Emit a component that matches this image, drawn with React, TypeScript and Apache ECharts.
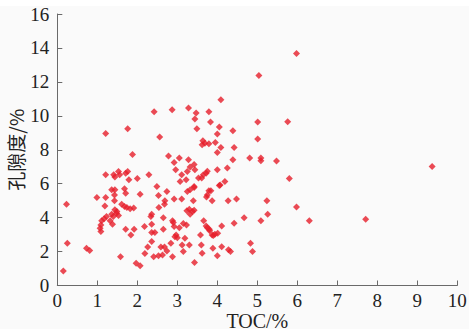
import React, { useEffect, useRef } from "react";
import * as echarts from "echarts";

const xTicks = [0, 10, 1];
const yTicks = [0, 16, 2];
const xName = "TOC/%";
const yName = "孔隙度/%";

const tocValues: number[] = [
  2.42, 2.87, 1.21, 1.76, 2.56, 1.88, 2.78, 2.92, 2.96, 1.21, 1.41, 1.44, 1.53, 1.56, 1.71, 1.76, 1.79, 2.0, 2.29, 2.49,
  4.09, 3.28, 3.47, 3.44, 3.79, 3.83, 5.01, 5.76, 3.49, 4.05, 4.39, 4.0, 5.01, 3.64, 3.69, 3.79, 3.62, 3.95, 4.09, 4.0,
  4.42, 4.39, 4.81, 5.09, 5.09, 5.48, 5.8, 3.05, 3.28, 3.42, 3.32, 3.25, 3.44, 3.72, 3.75, 3.65, 4.0, 4.25, 3.11, 3.07,
  3.22, 3.53, 3.61, 4.07, 4.19, 3.42,
  0.23, 0.25, 0.15, 0.73, 0.81, 0.99, 1.21, 1.19, 1.36, 1.44, 1.43, 1.43, 1.68, 1.71, 2.07, 2.53, 2.74, 2.69, 2.68, 2.54,
  1.44, 1.48, 1.36, 1.4, 1.53, 1.49, 1.61, 1.68, 1.74, 1.82, 1.91, 1.23, 1.17, 1.11, 1.09, 1.07, 1.09, 1.32, 1.38, 1.71,
  1.92, 1.84, 1.58, 1.97, 2.07, 2.18, 2.36, 2.34, 2.36, 2.36, 2.44, 2.65, 2.65, 2.36, 2.26, 2.19, 2.59, 2.68, 2.41, 2.53,
  2.63, 2.74,
  3.25, 3.32, 3.42, 3.75, 3.79, 3.84, 3.73, 4.05, 2.92, 3.11, 3.4, 3.87, 4.27, 4.48, 5.24, 5.26, 5.09, 4.67, 4.42, 3.24,
  3.3, 3.38, 3.32, 3.42, 3.66, 3.72, 3.75, 3.8, 3.81, 4.11, 3.87, 3.94, 4.01, 3.9, 3.58, 2.9, 2.88, 3.05, 3.15, 3.23,
  2.97, 3.0, 2.94, 3.19, 2.84, 3.12, 3.3, 3.6, 3.15, 2.88, 3.62, 3.43, 3.89, 4.0, 4.11, 4.28, 4.33, 4.83, 4.88,
  9.37, 7.71, 6.3, 5.98, 5.98, 5.04, 2.92,
];

const porosityValues: number[] = [
  10.24, 10.36, 8.96, 9.24, 8.75, 7.72, 7.63, 7.25, 6.82, 6.52, 6.52, 6.39, 6.72, 6.52, 6.62, 6.72, 6.23, 6.3, 6.52, 5.83,
  10.95, 10.46, 10.16, 9.81, 10.24, 9.63, 9.63, 9.65, 9.24, 9.34, 9.12, 8.93, 8.63, 8.53, 8.39, 8.35, 8.29, 8.43, 8.13, 7.84,
  8.13, 7.41, 7.51, 7.51, 7.35, 7.33, 6.3, 7.51, 7.41, 7.13, 6.98, 6.72, 6.82, 6.62, 6.74, 6.52, 6.82, 6.92, 6.52, 6.13,
  6.23, 6.33, 6.33, 5.93, 6.13, 5.83,
  4.79, 2.49, 0.86, 2.2, 2.06, 5.18, 5.18, 4.69, 5.64, 5.64, 5.34, 4.99, 5.7, 5.44, 5.38, 5.3, 5.54, 4.99, 4.79, 4.6,
  4.46, 4.26, 4.2, 4.06, 4.12, 4.36, 4.79, 4.65, 4.6, 4.52, 4.56, 4.06, 3.93, 3.81, 3.57, 3.38, 3.18, 3.81, 3.61, 3.32,
  3.32, 2.98, 1.7, 1.31, 1.17, 3.47, 4.2, 4.06, 3.61, 3.12, 3.12, 4.0, 3.32, 2.59, 2.27, 1.88, 2.27, 2.27, 1.7, 1.76,
  1.8, 2.04,
  5.54, 5.64, 5.78, 5.34, 5.58, 5.58, 5.22, 5.9, 5.1, 5.1, 5.0, 5.0, 5.0, 5.1, 5.0, 4.2, 3.81, 4.0, 3.67, 4.4,
  4.5, 4.36, 4.2, 4.44, 3.81, 3.51, 3.41, 3.32, 3.22, 3.51, 2.98, 3.02, 3.08, 2.94, 2.98, 3.71, 3.81, 3.41, 3.65, 3.57,
  2.98, 2.82, 2.88, 2.79, 2.49, 2.39, 2.39, 2.39, 2.0, 1.7, 1.9, 1.35, 2.2, 1.76, 2.29, 2.1, 2.0, 2.49, 2.0,
  7.01, 3.91, 3.81, 4.62, 13.67, 12.37, 3.47,
];

export default function App() {
  const ref = useRef<HTMLDivElement>(null);
  useEffect(() => {
    if (!ref.current) return;
    const chart = echarts.init(ref.current, undefined, { renderer: "svg" });
    const data = tocValues.map((x, i) => [x, porosityValues[i]]);
    const font = "Liberation Serif, Times New Roman, serif";
    const axisCommon = {
      axisLine: { show: true, lineStyle: { color: "#6a6a6a", width: 1 } },
      axisTick: { show: true, inside: true, length: 5, lineStyle: { color: "#6a6a6a" } },
      splitLine: { show: false },
      axisLabel: { color: "#222", fontFamily: font, fontSize: 19, lineHeight: 16 },
      nameTextStyle: { color: "#222", fontFamily: font, fontSize: 20, lineHeight: 18 },
      nameLocation: "middle" as const,
      nameMoveOverlap: false,
    };
    chart.setOption({
      animation: false,
      backgroundColor: "#ffffff",
      graphic: [
        {
          type: "rect",
          z: -10,
          shape: { x: 0, y: 6, width: 469, height: 323 },
          style: { fill: "#fafafa" },
          silent: true,
        },
      ],
      grid: {
        left: 57.3,
        right: 13.7,
        top: 14,
        bottom: 46.5,
        containLabel: false,
        outerBoundsMode: "none",
      },
      xAxis: {
        type: "value",
        min: xTicks[0],
        max: xTicks[1],
        interval: xTicks[2],
        name: xName,
        nameGap: 26,
        ...axisCommon,
        axisLabel: { ...axisCommon.axisLabel, margin: 7 },
      },
      yAxis: {
        type: "value",
        min: yTicks[0],
        max: yTicks[1],
        interval: yTicks[2],
        name: yName,
        nameGap: 32,
        ...axisCommon,
        axisLabel: { ...axisCommon.axisLabel, margin: 8 },
        nameTextStyle: { ...axisCommon.nameTextStyle, fontFamily: "Noto Sans CJK SC", fontSize: 19, lineHeight: 19 },
      },
      series: [
        {
          type: "scatter",
          data,
          symbol: "diamond",
          symbolSize: 7,
          itemStyle: { color: "#e61e2b" },
        },
      ],
    });
    return () => chart.dispose();
  }, []);
  return (
    <div
      ref={ref}
      style={{ position: "absolute", left: 0, top: 0, width: 471, height: 332 }}
    />
  );
}
